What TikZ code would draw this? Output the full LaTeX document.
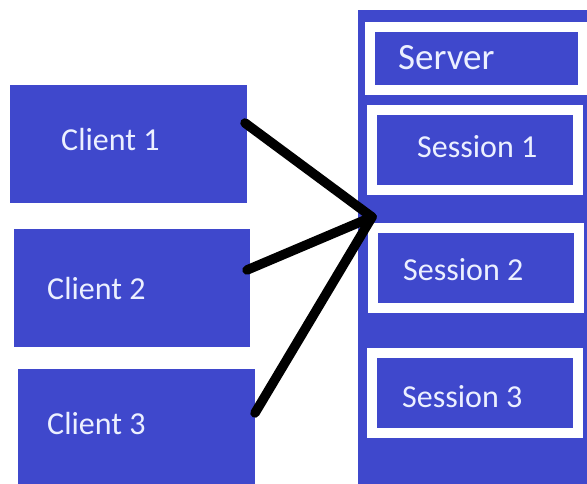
\documentclass[tikz,border=0pt]{standalone}
\usepackage{fontspec}
\setmainfont{Carlito}
\definecolor{paintblue}{RGB}{63,72,204}
\definecolor{paintwhite}{RGB}{236,240,255}

\begin{document}
\begin{tikzpicture}[
        x=1pt,
        y=-1pt,
        line join=round,
        line cap=round,
        box/.style={fill=paintblue, inner sep=0pt, outer sep=0pt},
        framed/.style={box, draw=white, line width=10pt, line join=miter},
        txt/.style={text=paintwhite, inner sep=0pt, anchor=west,
            font=\fontsize{32}{36}\selectfont},
        wire/.style={black, line width=9.5pt}
    ]
        % page
        \useasboundingbox (0,0) rectangle (587,483);
        \clip (0,0) rectangle (587,483);

        % clients
        \node[box, minimum width=237, minimum height=118] (c1) at (128.5,144) {};
        \node[box, minimum width=236, minimum height=118] (c2) at (132,288) {};
        \node[box, minimum width=237, minimum height=118] (c3) at (136.5,428) {};
        \node[txt] (c1t) at (61,140) {Client 1};
        \node[txt] (c2t) at (47,289) {Client 2};
        \node[txt] (c3t) at (47,424) {Client 3};

        % server with its sessions
        \node[box, minimum width=242, minimum height=490] (srv) at (479,255) {};
        \node[framed, minimum width=213, minimum height=63] (srvh) at (476.5,58.5) {};
        \node[framed, minimum width=206, minimum height=80] (s1) at (475,150) {};
        \node[framed, minimum width=206, minimum height=80] (s2) at (476,268) {};
        \node[framed, minimum width=206, minimum height=80] (s3) at (475,393) {};
        \node[txt, font=\fontsize{37}{40}\selectfont] (srvt) at (398,58) {Server};
        \node[txt] (s1t) at (417,147) {Session 1};
        \node[txt] (s2t) at (403,270) {Session 2};
        \node[txt] (s3t) at (402,397) {Session 3};

        % connections
        \coordinate (j) at (372,217);
        \draw[wire] ([shift={(-2,-21)}]c1.east) -- (j);
        \draw[wire] ([shift={(-3,-18)}]c2.east) -- (j);
        \draw[wire] ([shift={(0,-15)}]c3.east) -- (j);
    \end{tikzpicture}
\end{document}
